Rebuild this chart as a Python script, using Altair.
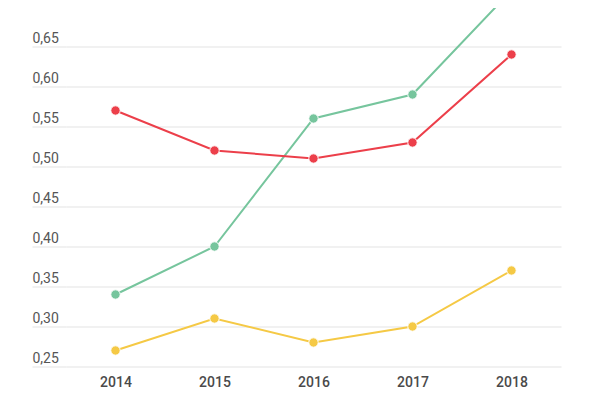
import altair as alt
import pandas as pd

years = ["2014", "2015", "2016", "2017", "2018"]
green = [0.34, 0.40, 0.56, 0.59, 0.72]
yellow = [0.27, 0.31, 0.28, 0.30, 0.37]
red = [0.57, 0.52, 0.51, 0.53, 0.64]
series_names = ["green", "yellow", "red"]
series_colors = ["#76c59d", "#f5c945", "#ec3f4a"]
y_ticks = [0.25, 0.30, 0.35, 0.40, 0.45, 0.50, 0.55, 0.60, 0.65, 0.70, 0.75]

rows = []
for name, vals in zip(series_names, [green, yellow, red]):
    for yr, v in zip(years, vals):
        rows.append({"year": yr, "value": v, "series": name})
df = pd.DataFrame(rows)

grid_color = "#e3e3e3"

x_enc = alt.X(
    "year:O",
    scale=alt.Scale(type="point", padding=0.5),
    sort=years,
    axis=alt.Axis(
        title=None, domain=False, ticks=False, tickSize=0, grid=False,
        labelAngle=0, labelBaseline="alphabetic", labelPadding=19.5,
        labelFont="Roboto", labelFontSize=14, labelFontWeight=500,
        labelColor="#4a4a4a",
    ),
)
y_enc = alt.Y(
    "value:Q",
    scale=alt.Scale(domain=[0.25, 0.75], nice=False, zero=False),
    axis=alt.Axis(
        title=None, values=y_ticks, format=".2f",
        labelExpr="replace(datum.label, '.', ',')",
        domain=False, ticks=True, tickSize=34, tickColor=grid_color, tickWidth=1.2,
        grid=True, gridColor=grid_color, gridWidth=1.2,
        labelAlign="left", labelBaseline="alphabetic", labelOffset=-4,
        labelPadding=0, labelFont="Roboto", labelFontSize=14,
        labelColor="#555555",
    ),
)
color_enc = alt.Color(
    "series:N",
    scale=alt.Scale(domain=series_names, range=series_colors),
    legend=None,
)

base = alt.Chart(df).encode(x=x_enc, y=y_enc, color=color_enc, detail="series:N")
lines = base.mark_line(strokeWidth=2)
points = base.mark_circle(size=88, opacity=1, stroke="white", strokeWidth=1)

chart = alt.layer(lines, points).properties(
    width=495,
    height=400,
    autosize=alt.AutoSizeParams(type="none"),
    padding={"left": 58, "top": -41.5, "right": 31, "bottom": 34},
).configure_view(stroke=None)

chart.save("out.html", embed_options={"renderer": "svg", "actions": False})
